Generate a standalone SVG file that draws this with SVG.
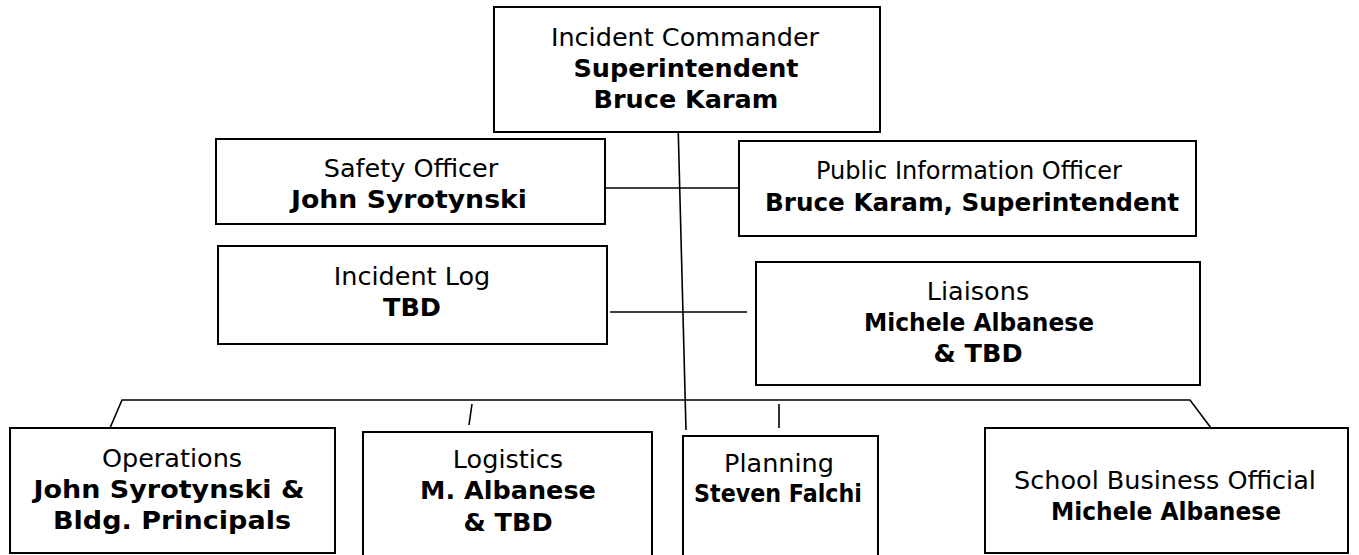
<svg xmlns="http://www.w3.org/2000/svg" width="1359" height="555" viewBox="0 0 1359 555">
<style>
.box{fill:#fff;stroke:#000;stroke-width:2}
.ln{fill:none;stroke:#000;stroke-width:1.6}
text{font-family:"DejaVu Sans",Verdana,sans-serif;font-size:25.5px;text-anchor:middle;fill:#000}
.b{font-weight:bold;font-size:25.5px}
</style>
<rect width="1359" height="555" fill="#fff"/>
<g id="connectors">
<path class="ln" d="M678 122 L686 430"/>
<path class="ln" d="M605 188 H739"/>
<path class="ln" d="M610 312 H747"/>
<path class="ln" d="M110 428 L122 400 H1190 L1211 428"/>
<path class="ln" d="M472 404 L469 425"/>
<path class="ln" d="M779 404 V428"/>
</g>
<g id="commander"><rect class="box" x="494" y="7" width="386" height="125"/>
<text x="685" y="46">Incident Commander</text><text class="b" x="686" y="77">Superintendent</text><text class="b" x="686" y="108">Bruce Karam</text></g>
<g id="safety"><rect class="box" x="216" y="139" width="389" height="85"/>
<text x="411" y="177">Safety Officer</text><text class="b" x="409" y="208" textLength="236" lengthAdjust="spacingAndGlyphs">John Syrotynski</text></g>
<g id="pio"><rect class="box" x="739" y="141" width="457" height="95"/>
<text x="969" y="179" textLength="306" lengthAdjust="spacingAndGlyphs">Public Information Officer</text><text class="b" x="972" y="211" textLength="414" lengthAdjust="spacingAndGlyphs">Bruce Karam, Superintendent</text></g>
<g id="log"><rect class="box" x="218" y="246" width="389" height="98"/>
<text x="412" y="285">Incident Log</text><text class="b" x="412" y="316">TBD</text></g>
<g id="liaisons"><rect class="box" x="756" y="262" width="444" height="123"/>
<text x="978" y="300">Liaisons</text><text class="b" x="979" y="331" textLength="230" lengthAdjust="spacingAndGlyphs">Michele Albanese</text><text class="b" x="978" y="362">&amp; TBD</text></g>
<g id="operations"><rect class="box" x="10" y="428" width="325" height="125"/>
<text x="172" y="467">Operations</text><text class="b" x="169" y="498" textLength="271" lengthAdjust="spacingAndGlyphs">John Syrotynski &amp;</text><text class="b" x="172" y="529" textLength="238" lengthAdjust="spacingAndGlyphs">Bldg. Principals</text></g>
<g id="logistics"><rect class="box" x="363" y="432" width="289" height="140"/>
<text x="508" y="468">Logistics</text><text class="b" x="508" y="499">M. Albanese</text><text class="b" x="508" y="531">&amp; TBD</text></g>
<g id="planning"><rect class="box" x="683" y="436" width="195" height="140"/>
<text x="779" y="472">Planning</text><text class="b" x="778" y="502" textLength="168" lengthAdjust="spacingAndGlyphs">Steven Falchi</text></g>
<g id="sbo"><rect class="box" x="985" y="428" width="363" height="125"/>
<text x="1165" y="489">School Business Official</text><text class="b" x="1166" y="520" textLength="230" lengthAdjust="spacingAndGlyphs">Michele Albanese</text></g>
</svg>
